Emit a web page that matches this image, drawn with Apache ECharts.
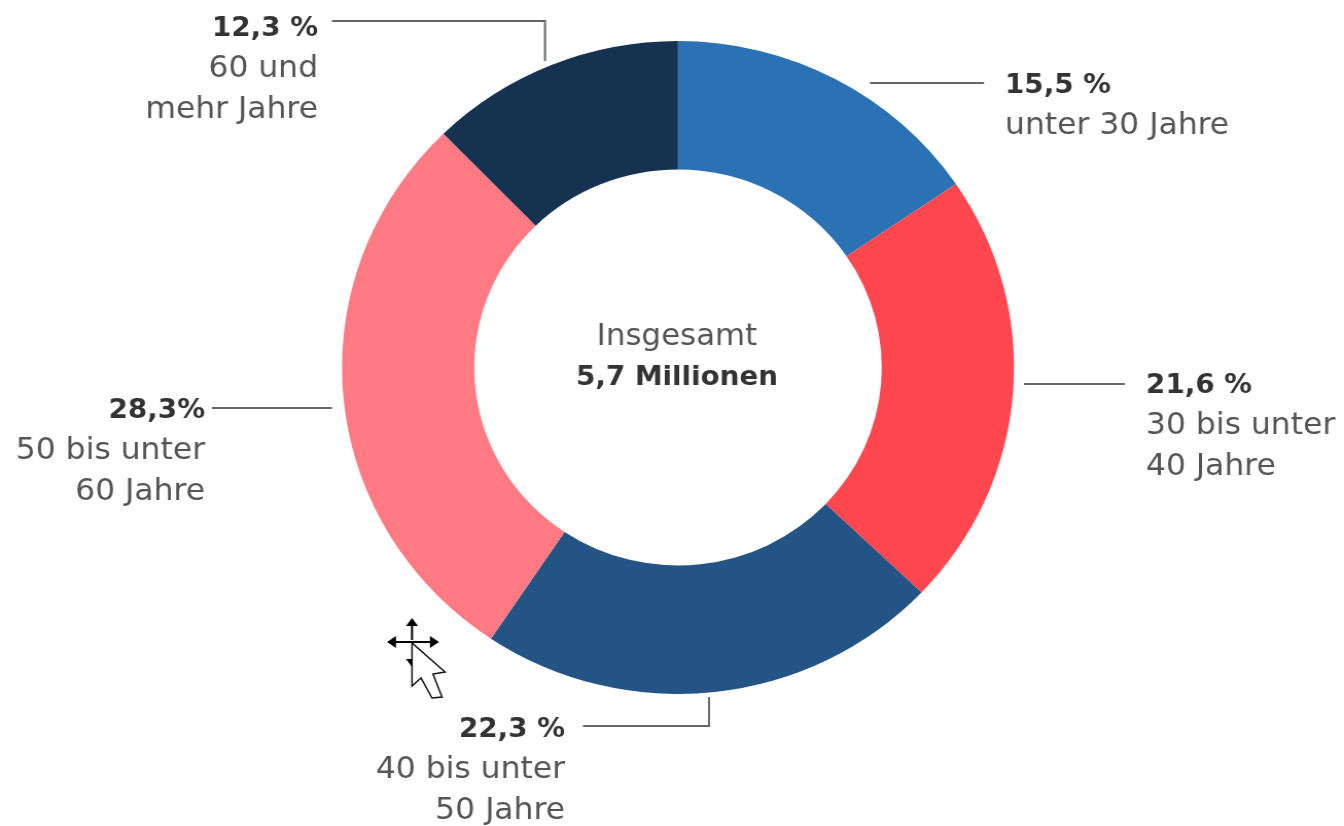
<!DOCTYPE html>
<html><head><meta charset="utf-8">
<style>html,body{margin:0;padding:0;background:#fff;overflow:hidden}
#c{width:1306px;height:826px;transform:scaleX(1.02910);transform-origin:0 0}</style>
<script src="https://cdn.jsdelivr.net/npm/echarts@6/dist/echarts.min.js"></script>
</head><body><div id="c"></div>
<script>
const categories = ['unter 30 Jahre','30 bis unter\n40 Jahre','40 bis unter\n50 Jahre','50 bis unter\n60 Jahre','60 und\nmehr Jahre'];
const values = [15.5,21.6,22.3,28.3,12.3];
const valueLabels = ['15,5 %','21,6 %','22,3 %','28,3%','12,3 %'];
const colors = ['#2b72b5','#ff474f','#235485','#ff7a82','#163251'];
const totalLabel = 'Insgesamt';
const totalValue = '5,7 Millionen';
const S = 1344/1306;
const sx = x => x/S;
const labelX = [1005,1146,565,205,318];
const labelY = [65,365,709,390,8];
const labelSide = ['L','L','R','R','R'];
const leaders = [
 [[870,83],[984,83]],
 [[1024,384],[1125,384]],
 [[583,726],[709,726],[709,697]],
 [[212,408],[332,408]],
 [[332,21],[545,21],[545,61]]
];
const FONT = '"DejaVu Sans", sans-serif';
const rich = {};
for (const s of ['L','R']) {
  const align = s==='L'?'left':'right';
  rich['b'+s] = {fontFamily:FONT,fontSize:27,fontWeight:700,color:'#333',lineHeight:41,align};
  rich['r'+s] = {fontFamily:FONT,fontSize:30.5,color:'#555',lineHeight:41,align};
}
const chart = echarts.init(document.getElementById('c'),null,{renderer:'canvas'});
const lineGraphics = leaders.map(p=>({type:'polyline',silent:true,
  shape:{points:p.map(([x,y])=>[sx(x),y])},
  style:{stroke:'#666',lineWidth:2,fill:null}}));
const cursor = [
 {type:'polyline',silent:true,shape:{points:[[412,621],[412,640]].map(([x,y])=>[sx(x),y])},style:{stroke:'#000',lineWidth:2,fill:null}},
 {type:'polyline',silent:true,shape:{points:[[390,642],[436,642]].map(([x,y])=>[sx(x),y])},style:{stroke:'#000',lineWidth:2,fill:null}},
 {type:'polygon',silent:true,shape:{points:[[406,626],[412,618],[418,626]].map(([x,y])=>[sx(x),y])},style:{fill:'#000'}},
 {type:'polygon',silent:true,shape:{points:[[396,636],[387,642],[396,648]].map(([x,y])=>[sx(x),y])},style:{fill:'#000'}},
 {type:'polygon',silent:true,shape:{points:[[430,636],[439,642],[430,648]].map(([x,y])=>[sx(x),y])},style:{fill:'#000'}},
 {type:'polygon',silent:true,shape:{points:[[406,659],[412,667],[412,659]].map(([x,y])=>[sx(x),y])},style:{fill:'#000'}},
 {type:'polygon',silent:true,shape:{points:[[412,643],[412,686],[421,678],[432,698],[442,697],[433,674],[445,672]].map(([x,y])=>[sx(x),y])},style:{fill:'#fff',stroke:'#111',lineWidth:1.5}}
];
chart.setOption({
  animation:false,
  backgroundColor:'#fff',
  title:{text:totalLabel,subtext:totalValue,left:sx(677),top:318,textAlign:'center',
    textStyle:{fontFamily:FONT,fontSize:30,fontWeight:400,color:'#555',lineHeight:38},
    subtextStyle:{fontFamily:FONT,fontSize:27,fontWeight:700,color:'#333',lineHeight:38},itemGap:3,padding:0},
  graphic:{elements:lineGraphics.concat(cursor)},
  series:[{
    type:'pie',silent:true,
    center:[sx(678),367.5],radius:[198,326.5],
    startAngle:90,clockwise:true,avoidLabelOverlap:false,
    label:{show:true,position:'outside',
      formatter:p=>{const s=labelSide[p.dataIndex];
        return '{b'+s+'|'+valueLabels[p.dataIndex]+'}\n'+categories[p.dataIndex].split('\n').map(t=>'{r'+s+'|'+t+'}').join('\n');},
      rich},
    labelLine:{show:false},
    labelLayout:p=>({x:sx(labelX[p.dataIndex]),y:labelY[p.dataIndex],
      align:labelSide[p.dataIndex]==='L'?'left':'right',verticalAlign:'top'}),
    itemStyle:{borderWidth:0},
    data:values.map((v,i)=>({name:categories[i],value:v,itemStyle:{color:colors[i]}}))
  }]
});
</script></body></html>
